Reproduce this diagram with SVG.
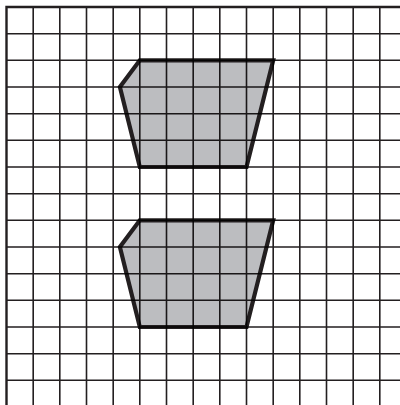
<svg xmlns="http://www.w3.org/2000/svg" width="400" height="405" viewBox="0 0 400 405">
<style>
.g{stroke:#231f20;stroke-width:1.6;fill:none}
.b{stroke:#231f20;stroke-width:2.4;fill:none}
.s{fill:#bcbdc0;stroke:#231f20;stroke-width:4.2;stroke-linejoin:miter;mix-blend-mode:multiply}
</style>
<rect width="400" height="405" fill="#fff"/>
<g id="grid">
<path class="g" d="M33.2 7V405M59.8 7V405M86.5 7V405M113.2 7V405M139.8 7V405M166.5 7V405M193.2 7V405M219.8 7V405M246.5 7V405M273.2 7V405M299.8 7V405M326.5 7V405M353.2 7V405M379.8 7V405"/>
<path class="g" d="M6.5 33.7H400M6.5 60.3H400M6.5 87H400M6.5 113.7H400M6.5 140.3H400M6.5 167H400M6.5 193.7H400M6.5 220.3H400M6.5 247H400M6.5 273.7H400M6.5 300.3H400M6.5 327H400M6.5 353.7H400M6.5 380.3H400"/>
<path class="b" d="M6.5 405V7H400"/>
</g>
<g id="shape1">
<polygon class="s" points="139.8,60.3 273.2,60.3 246.5,167 139.8,167 119.9,87"/>
</g>
<g id="shape2">
<polygon class="s" points="139.8,220.3 273.2,220.3 246.5,327 139.8,327 119.9,247"/>
</g>
</svg>
